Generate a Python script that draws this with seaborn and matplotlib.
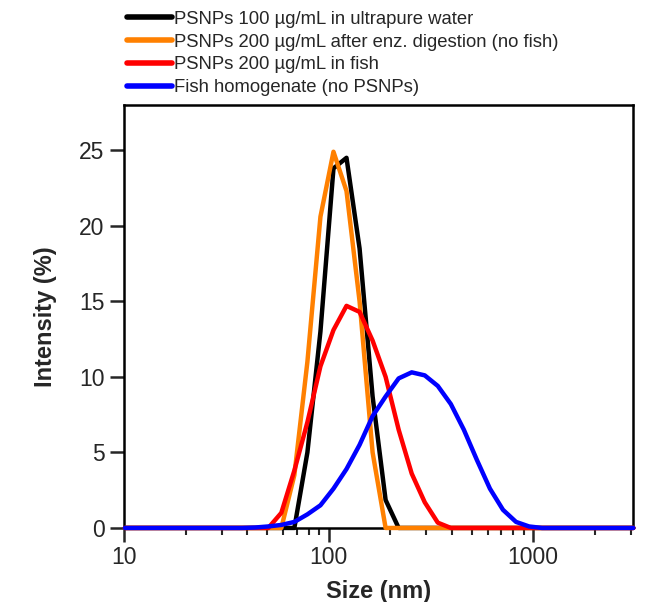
import numpy as np
import pandas as pd
import matplotlib.pyplot as plt
import seaborn as sns

# DLS size bins (nm)
size_nm = [10.1, 11.7, 13.54, 15.69, 18.17, 21.04, 24.36, 28.21, 32.67, 37.84,
           43.82, 50.75, 58.77, 68.06, 78.82, 91.28, 105.7, 122.4, 141.8, 164.2,
           190.1, 220.2, 255.0, 295.3, 342.0, 396.1, 458.7, 531.2, 615.1, 712.4,
           825.0, 955.4, 1106, 1281, 1484, 1718, 1990, 2305, 2669, 3091]

water = [0, 0, 0, 0, 0, 0, 0, 0, 0, 0,
         0, 0, 0, 0, 5.0, 13.0, 23.8, 24.5, 18.5, 8.7,
         1.85, 0, 0, 0, 0, 0, 0, 0, 0, 0,
         0, 0, 0, 0, 0, 0, 0, 0, 0, 0]
digest = [0, 0, 0, 0, 0, 0, 0, 0, 0, 0,
          0, 0, 0, 3.5, 11.0, 20.6, 24.9, 22.3, 15.0, 5.0,
          0, 0, 0, 0, 0, 0, 0, 0, 0, 0,
          0, 0, 0, 0, 0, 0, 0, 0, 0, 0]
in_fish = [0, 0, 0, 0, 0, 0, 0, 0, 0, 0,
           0, 0, 1.0, 3.8, 7.0, 10.7, 13.1, 14.7, 14.3, 12.4,
           10.0, 6.5, 3.6, 1.7, 0.35, 0, 0, 0, 0, 0,
           0, 0, 0, 0, 0, 0, 0, 0, 0, 0]
homog = [0, 0, 0, 0, 0, 0, 0, 0, 0, 0,
         0.03, 0.1, 0.2, 0.4, 0.9, 1.5, 2.6, 3.9, 5.5, 7.4,
         8.7, 9.9, 10.3, 10.1, 9.4, 8.2, 6.5, 4.5, 2.6, 1.2,
         0.4, 0.1, 0, 0, 0, 0, 0, 0, 0, 0]

labels = ['PSNPs 100 µg/mL in ultrapure water',
          'PSNPs 200 µg/mL after enz. digestion (no fish)',
          'PSNPs 200 µg/mL in fish',
          'Fish homogenate (no PSNPs)']
colors = ['black', '#ff8000', '#ff0000', '#0000ff']

frames = []
for lab, vals in zip(labels, [water, digest, in_fish, homog]):
    frames.append(pd.DataFrame({'size': size_nm, 'intensity': vals, 'sample': lab}))
df = pd.concat(frames, ignore_index=True)

sns.set_style('ticks')
plt.rcParams['font.family'] = ['Liberation Sans', 'DejaVu Sans']

fig = plt.figure(figsize=(6.72, 6.02), dpi=100)
ax = fig.add_axes([0.1845, 0.123, 0.758, 0.7027])
sns.lineplot(data=df, x='size', y='intensity', hue='sample', hue_order=labels,
             palette=colors, linewidth=3.2, ax=ax, sort=False, estimator=None)
for ln in ax.get_lines():
    ln.set_clip_on(False)
    ln.set_zorder(3)

ax.set_xscale('log')
ax.set_xlim(10, 3091)
ax.set_ylim(0, 28)
ax.set_yticks([0, 5, 10, 15, 20, 25])
ax.set_xticks([10, 100, 1000])
ax.set_xticklabels(['10', '100', '1000'])
ax.tick_params(axis='both', which='major', labelsize=16.5, width=1.8, length=10, direction='out')
ax.tick_params(axis='x', which='minor', width=1.5, length=5, direction='out')
ax.tick_params(axis='x', which='major', pad=3)
ax.tick_params(axis='y', which='major', pad=4)
for s in ax.spines.values():
    s.set_linewidth(1.8)
    s.set_color('black')
ax.set_xlabel('Size (nm)', fontsize=17, fontweight='bold', labelpad=8)
ax.set_ylabel('Intensity (%)', fontsize=17, fontweight='bold', labelpad=16)

leg = ax.legend(loc='lower left', bbox_to_anchor=(-0.015, 0.994), frameon=False,
                fontsize=13.3, handlelength=2.4, handletextpad=0.1,
                labelspacing=0.32, borderaxespad=0.2)
for line in leg.get_lines():
    line.set_linewidth(4)

fig.savefig('out.png', dpi=100, facecolor='white')
